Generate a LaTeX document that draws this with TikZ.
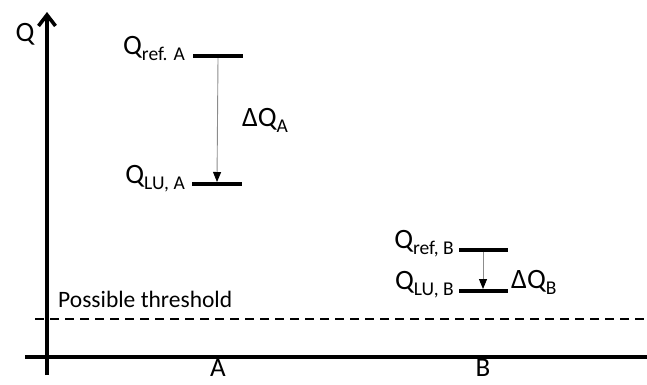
\documentclass[tikz,border=0pt]{standalone}
\usepackage{fontspec}
\setmainfont{Carlito}
\usetikzlibrary{arrows.meta}
\newcommand\sbt[1]{\raisebox{-0.45ex}{\fontsize{19.5}{20}\selectfont #1}}
\tikzset{
  big/.style={font=\fontsize{28}{30}\selectfont, inner sep=0pt},
  axislbl/.style={font=\fontsize{27}{29}\selectfont, inner sep=0pt},
  levelbar/.style={fill=black, minimum width=50pt, minimum height=3.6pt, inner sep=0pt, draw=none},
  deltaarr/.style={draw=black!45, line width=0.9pt, -{Triangle[black,length=10pt,width=8pt]}},
  axisline/.style={line width=3.6pt},
}
\begin{document}
\begin{tikzpicture}[x=1pt,y=-1pt]
\useasboundingbox (0,0) rectangle (647,384);
% axes
\coordinate (vb) at (47,375);
\coordinate (vt) at (47,12);
\coordinate (hl) at (25,357);
\coordinate (hr) at (647,357);
\draw[axisline] (hl) -- (hr);
\draw[axisline, -{Straight Barb[length=11pt 0,width=17pt 0]}] (vb) -- (vt);
\node[big] (qlab) at (25,34) {Q};
\node[axislbl, anchor=base] (alab) at (218,376) {A};
\node[axislbl, anchor=base] (blab) at (483,376) {B};
% threshold
\coordinate (t1) at (35,319);
\coordinate (t2) at (647,319);
\draw[line width=1.5pt, dash pattern=on 9pt off 6pt] (t1) -- (t2);
\node[font=\fontsize{23.5}{25}\selectfont, inner sep=0pt, anchor=base west] (thr) at (58,307) {Possible threshold};
% A
\node[levelbar] (barRA) at (218,56) {};
\node[levelbar] (barLA) at (217,184) {};
\node[big, anchor=base east] (lRA) at (185,54) {Q\sbt{ref. A}};
\node[big, anchor=base east] (lLA) at (185,183) {Q\sbt{LU, A}};
\draw[deltaarr] (barRA.south) -- (barLA.north);
\node[big] (dA) at (265,120) {ΔQ\sbt{A}};
% B
\node[levelbar, minimum width=49pt] (barRB) at (483,250) {};
\node[levelbar, minimum width=49pt] (barLB) at (483,291) {};
\node[big, anchor=base east] (lRB) at (454,248) {Q\sbt{ref, B}};
\node[big, anchor=base east] (lLB) at (454,289) {Q\sbt{LU, B}};
\draw[deltaarr] (barRB.south) -- (barLB.north);
\node[big, anchor=west] (dB) at (511,282) {ΔQ\sbt{B}};
\end{tikzpicture}
\end{document}
